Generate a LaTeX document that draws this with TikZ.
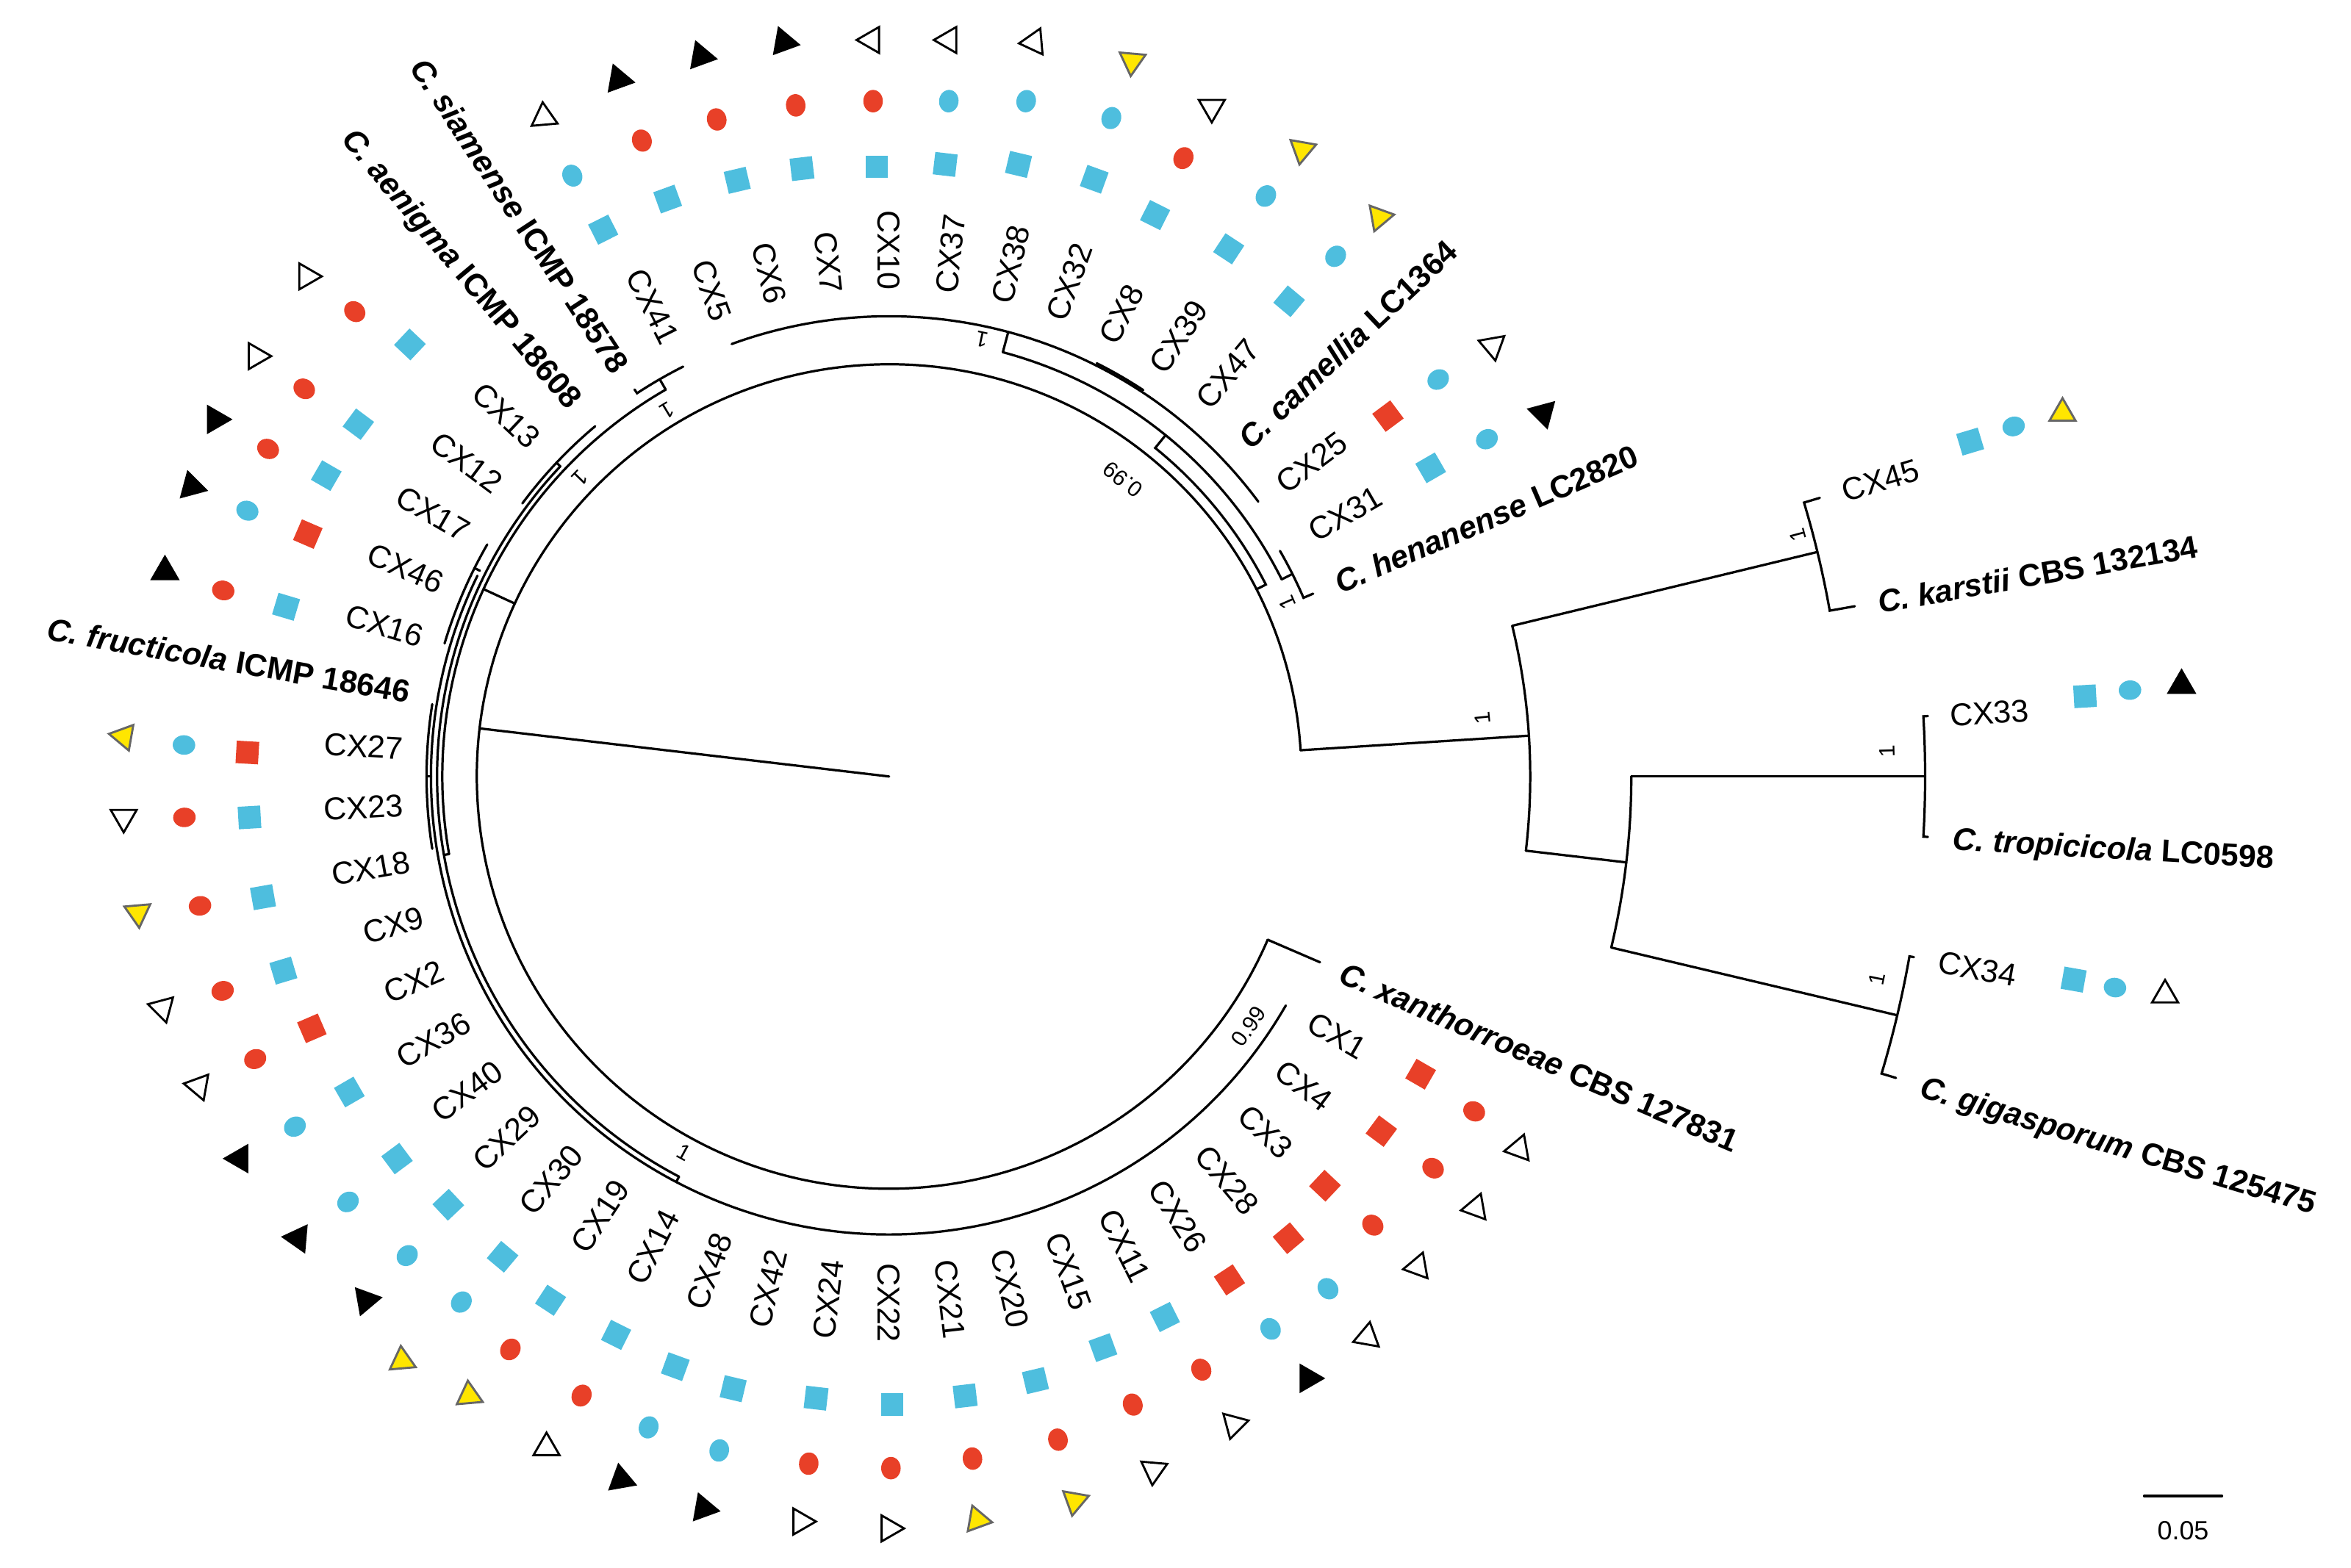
\documentclass[tikz,border=0pt]{standalone}
\usepackage{fontspec}
\setmainfont{Liberation Sans}
\usetikzlibrary{shapes.geometric}
\definecolor{blu}{RGB}{78,190,222}
\definecolor{rd}{RGB}{232,64,40}
\definecolor{yel}{RGB}{255,230,0}
\newcommand{\spc}[2]{\textbf{\textit{C. #1} #2}}
\tikzset{
  br/.style={line width=0.45pt, line cap=round},
  tiplab/.style={font=\fontsize{6}{7}\selectfont, inner sep=0pt, text height=4.3pt, text depth=0pt},
  post/.style={font=\fontsize{4.2}{5}\selectfont, inner sep=0pt},
  sqm/.style={rectangle, minimum size=0.15cm, inner sep=0pt},
  cim/.style={ellipse, minimum width=0.15cm, minimum height=0.13cm, inner sep=0pt},
  trm/.style={regular polygon, regular polygon sides=3, minimum size=0.2cm, inner sep=0pt, line width=0.4pt}
}
\begin{document}
\begin{tikzpicture}[x=0.01cm, y=0.01cm]
\useasboundingbox (0,0) rectangle (1568,1046);

\begin{scope}[shift={(593,528)}]
% root and backbone
\coordinate (root) at (0,0);
\coordinate (ingr) at (173.3:275);
\draw[br] (root) -- (ingr);
\draw[br] (3.65:275) arc[start angle=3.65, end angle=336.67, radius=275];
\draw[br] (336.67:275) -- (336.67:313);
% upper right clades
\draw[br] (27:275) -- (27:282) arc[start angle=27, end angle=51, radius=282] -- (51:293);
\draw[br] (26.67:293) arc[start angle=26.67, end angle=75, radius=293];
\draw[br] (75:293) -- (75:307);
\draw[br] (36.67:307) arc[start angle=36.67, end angle=110, radius=307];
\draw[br] (56.67:308.5) arc[start angle=56.67, end angle=63.33, radius=308.5];
\draw[br] (26.67:293) -- (26.67:301);
\draw[br] (23.33:308) -- (23.33:301) arc[start angle=23.33, end angle=30, radius=301];
% left clades
\draw[br] (155.2:275) -- (155.2:298);
\draw[br] (120:298) arc[start angle=120, end angle=190, radius=298];
\draw[br] (120:298) -- (120:306);
\draw[br] (116.67:306) arc[start angle=116.67, end angle=123.33, radius=306] -- (123.33:309);
\draw[br] (190:298) -- (190:301.5);
\draw[br] (136.67:301.5) arc[start angle=136.67, end angle=242.3, radius=301.5];
\draw[br] (136.67:301.5) -- (136.67:305);
\draw[br] (130:305) arc[start angle=130, end angle=143.33, radius=305];
\draw[br] (242.3:301.5) -- (242.3:305.5);
\draw[br] (154:305.5) arc[start angle=154, end angle=330, radius=305.5];
\draw[br] (153.3:305.5) -- (153.3:309.5);
\draw[br] (150:309.5) arc[start angle=150, end angle=163.33, radius=309.5];
\draw[br] (180:305.5) -- (180:308.5);
\draw[br] (171:308.5) arc[start angle=171, end angle=189, radius=308.5];
% outgroup
\draw[br] (3.65:275) -- (3.65:427.6);
\draw[br] (-6.65:427.6) arc[start angle=-6.65, end angle=13.6, radius=427.6];
\draw[br] (13.6:427.6) -- (13.6:637);
\draw[br] (10:654) -- (10:637) arc[start angle=10, end angle=16.67, radius=637] -- (16.67:648);
\draw[br] (-6.65:427.6) -- (-6.65:495);
\draw[br] (-13.33:495) arc[start angle=-13.33, end angle=0, radius=495];
\draw[br] (0:495) -- (0:691);
\draw[br] (-3.33:694) -- (-3.33:691) arc[start angle=-3.33, end angle=3.33, radius=691] -- (3.33:694);
\draw[br] (-13.33:495) -- (-13.33:691);
\draw[br] (-16.67:701) -- (-16.67:691) arc[start angle=-16.67, end angle=-10, radius=691] -- (-10:694);

% tip labels
\foreach \k/\txt in {4/{\spc{henanense}{LC2820}},5/CX31,6/CX25,7/{\spc{camellia}{LC1364}},
  8/CX47,9/CX39,10/CX8,11/CX32,12/CX38,13/CX37,14/CX10,15/CX7,16/CX6,17/CX5,18/CX41,
  19/{\spc{siamense}{ICMP 18578}},20/{\spc{aenigma}{ICMP 18608}},
  21/CX13,22/CX12,23/CX17,24/CX46,25/CX16,26/{\spc{fructicola}{ICMP 18646}},
  27/CX27,28/CX23,29/CX18,30/CX9,31/CX2,32/CX36,33/CX40,34/CX29,35/CX30,36/CX19,
  37/CX14,38/CX48,39/CX42,40/CX24,41/CX22,42/CX21,43/CX20,44/CX15,45/CX11,46/CX26,
  47/CX28,48/CX3,49/CX4,50/CX1}{
  \pgfmathsetmacro\a{(\k-0.5)*20/3}
  \pgfmathtruncatemacro\lft{and(\a>=89.9,\a<269.9)}
  \ifnum\lft=1
    \node[tiplab, anchor=east, rotate=\a-180] (lab\k) at (\a:324) {\txt};
  \else
    \node[tiplab, anchor=west, rotate=\a] (lab\k) at (\a:324) {\txt};
  \fi
}
\node[tiplab, anchor=west, rotate=-23.33] (lab51) at (-23.33:328) {\spc{xanthorroeae}{CBS 127831}};
\node[tiplab, anchor=west, rotate=16.67] (lab3) at (16.67:663) {CX45};
\node[tiplab, anchor=west, rotate=10] (lab2) at (10:669) {\spc{karstii}{CBS 132134}};
\node[tiplab, anchor=west, rotate=3.33] (lab1) at (3.33:708) {CX33};
\node[tiplab, anchor=west, rotate=-3.33] (lab54) at (-3.33:710) {\spc{tropicicola}{LC0598}};
\node[tiplab, anchor=west, rotate=-10] (lab53) at (-10:710) {CX34};
\node[tiplab, anchor=west, rotate=-16.67] (lab52) at (-16.67:718) {\spc{gigasporum}{CBS 125475}};

% posterior probabilities
\node[post, rotate=168] (pp1) at (78:298) {1};
\node[post, rotate=142] (pp2) at (51.8:252) {0.99};
\node[post, rotate=113.6] (pp3) at (23.6:290) {1};
\node[post, rotate=211] (pp4) at (121.2:285.5) {1};
\node[post, rotate=226] (pp5) at (136:286.6) {1};
\node[post, rotate=331.4] (pp6) at (241.4:285.5) {1};
\node[post, rotate=55] (pp7) at (325.2:292) {0.99};
\node[post, rotate=95.6] (pp8) at (5.65:398) {1};
\node[post, rotate=104.9] (pp9) at (14.9:627) {1};
\node[post, rotate=91.5] (pp10) at (1.45:666) {1};
\node[post, rotate=78.4] (pp11) at (-11.6:672.4) {1};
\end{scope}

% trait markers: square, circle, triangle for each isolate
\foreach \k/\qx/\qy/\qc/\ox/\oy/\oc/\vx/\vy/\vf/\vd/\va in {
  5/954.2/312.1/blu/991.7/293/blu/1029.2/275.6/black/black/45,
  6/925.7/277.6/rd/959.2/253.2/blu/995.6/230.7/white/black/160,
  8/859.8/201/blu/890.8/171/blu/920/144.9/yel/black!60/250,
  9/819.5/166/blu/844.3/130.8/blu/868.4/99.9/yel/black!60/260,
  10/770.4/143.5/blu/789.3/105.5/rd/808.2/71.7/white/black/270,
  11/729.8/119.6/blu/741.2/78.8/blu/755/40.8/yel/black!60/265,
  12/679.3/109.7/blu/684.4/67.5/blu/689.6/28.1/white/black/185,
  13/630.4/109.7/blu/632.8/67.5/blu/632.8/26.7/white/black/180,
  14/584.7/111.2/blu/582.3/67.5/rd/581.3/26.7/white/black/180,
  15/534.9/112.5/blu/530.7/70.3/rd/522.8/28.1/black/black/110,
  16/491.7/120.3/blu/478/79.7/rd/467.6/37.5/black/black/110,
  17/445.3/132.8/blu/428.1/93.8/rd/412.6/53.1/black/black/110,
  18/402.3/153.2/blu/381.7/117.2/blu/362.8/78.2/white/black/95,
  21/273.4/229.8/blu/236.6/207.9/rd/204.6/184.4/white/black/0,
  22/239/283/blu/202.9/259.4/rd/170.9/237.6/white/black/0,
  23/217.6/317.3/blu/178.8/299.5/rd/143.7/279.8/black/black/0,
  24/205.3/356.3/rd/165/340.7/blu/127.9/324.5/black/black/-15,
  25/190.8/404.8/blu/148.9/393.9/rd/110/381.4/black/black/-30,
  27/165/502/rd/122.7/497/blu/82.5/491.3/yel/black!60/290,
  28/166.4/545.3/blu/123/545.3/rd/82.5/545.3/white/black/270,
  29/175.4/598.5/blu/133.4/604.3/rd/92/609/yel/black!60/275,
  30/189/647.5/blu/148.5/661/rd/108.3/672.5/white/black/165,
  31/208/686/rd/170.2/706.5/rd/132.4/724.6/white/black/170,
  32/233/728.5/blu/196.7/751.6/blu/159.9/772.9/black/black/180,
  33/264.8/772.9/blu/232.1/801.8/blu/198.7/826/black/black/175,
  34/299/803.7/blu/271.6/837.6/blu/244/867.4/black/black/130,
  35/335.2/838.4/blu/307.7/868.6/blu/268.2/907.8/yel/black!60/95,
  36/367.2/867.4/blu/340.4/900.2/rd/312.9/931/yel/black!60/95,
  37/410.9/890.5/blu/387.9/931/rd/364.5/965.7/white/black/90,
  38/450.4/911.7/blu/432.6/952.2/blu/414.3/987/black/black/100,
  39/489/926.4/blu/479.7/967.6/blu/469.4/1006.2/black/black/110,
  40/544.3/932.7/blu/539.4/976.4/rd/534.2/1015/white/black/0,
  41/595/937/blu/594.2/979.4/rd/593/1019.6/white/black/0,
  42/643.7/931.2/blu/648.6/973/rd/651.9/1013.8/yel/black!60/-10,
  43/690.6/921/blu/705.6/960.4/rd/716.8/1001.3/yel/black!60/260,
  44/735.6/899/blu/755.5/937/rd/769.4/980.8/white/black/265,
  45/776.9/878.6/blu/801.2/913.7/rd/823/950.2/white/black/255,
  46/820/853.8/rd/847.4/886.5/blu/872.5/919.5/black/black/240,
  47/859.4/826/rd/885.7/859.7/blu/911.9/891.8/white/black/200,
  48/883.7/791/rd/915.6/817.3/rd/945.6/845/white/black/190,
  49/921.3/754.6/rd/955.8/779.3/rd/984.2/805.7/white/black/190,
  50/947.5/716.6/rd/983.2/741.4/rd/1013/766.3/white/black/190,
  3/1314/294.6/blu/1343/284.5/blu/1375.6/275.6/yel/black!60/90,
  1/1390.6/464.5/blu/1420.6/460.4/blu/1455/457.2/black/black/90,
  53/1383/653.5/blu/1410.6/658.8/blu/1444/663.7/white/black/90}{
  \pgfmathsetmacro\a{(\k-0.5)*20/3}
  \node[sqm, fill=\qc, rotate=\a] (sq\k) at ({\qx},{1046-\qy}) {};
  \node[cim, fill=\oc, rotate=\a] (ci\k) at ({\ox},{1046-\oy}) {};
  \node[trm, fill=\vf, draw=\vd, rotate=\va-90] (tr\k) at ({\vx},{1046-\vy}) {};
}

% scale bar
\coordinate (sbl) at (1430,48);
\coordinate (sbr) at (1482,48);
\draw[br] (sbl) -- (sbr);
\node[font=\fontsize{5}{6}\selectfont, inner sep=0pt] (sbar) at (1456,25) {0.05};
\end{tikzpicture}
\end{document}
